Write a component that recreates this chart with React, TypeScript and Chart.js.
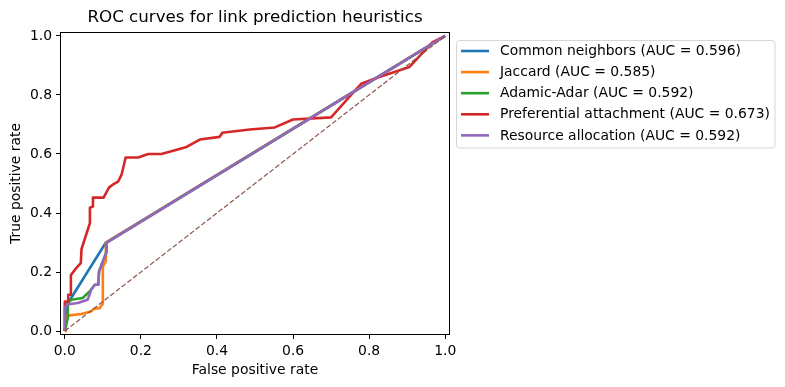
import React, { useEffect, useRef } from "react";
import { Chart, registerables } from "chart.js";

Chart.register(...registerables);

// ---- data ----
const titleText = "ROC curves for link prediction heuristics";
const xLabel = "False positive rate";
const yLabel = "True positive rate";

const seriesNames = [
  "Common neighbors",
  "Jaccard",
  "Adamic-Adar",
  "Preferential attachment",
  "Resource allocation",
];
const aucValues = ["0.596", "0.585", "0.592", "0.673", "0.592"];
const seriesColors = ["#1f77b4", "#ff7f0e", "#2ca02c", "#d62728", "#9467bd"];
const chanceColor = "#8c564b";

const cnFpr = [0, 0.003, 0.006, 0.108, 1];
const cnTpr = [0, 0.04, 0.09, 0.3, 1];

const jacFpr = [0, 0.003, 0.003, 0.012, 0.043, 0.069, 0.076, 0.092, 0.097, 0.1, 0.1, 0.108, 0.108, 1];
const jacTpr = [0, 0.0, 0.05, 0.053, 0.058, 0.066, 0.075, 0.078, 0.088, 0.092, 0.219, 0.236, 0.3, 1];

const aaFpr = [0, 0.008, 0.008, 0.017, 0.047, 0.056, 0.065, 0.069, 0.079, 0.088, 0.09, 0.1, 0.11, 0.11, 1];
const aaTpr = [0, 0.045, 0.095, 0.106, 0.112, 0.123, 0.134, 0.14, 0.157, 0.157, 0.202, 0.236, 0.27, 0.3, 1];

const paFpr = [
  0, 0, 0.009, 0.009, 0.016, 0.016, 0.031, 0.042, 0.044, 0.066, 0.066, 0.074, 0.074, 0.102,
  0.116, 0.125, 0.14, 0.149, 0.16, 0.193, 0.219, 0.254, 0.285, 0.32, 0.355, 0.407, 0.414,
  0.486, 0.552, 0.6, 0.7, 0.779, 0.827, 0.906, 0.967, 1,
];
const paTpr = [
  0, 0.1, 0.1, 0.123, 0.123, 0.19, 0.215, 0.23, 0.278, 0.366, 0.418, 0.422, 0.452, 0.452,
  0.486, 0.495, 0.506, 0.529, 0.588, 0.588, 0.6, 0.6, 0.611, 0.624, 0.649, 0.658, 0.672,
  0.683, 0.69, 0.717, 0.724, 0.838, 0.861, 0.895, 0.979, 1,
];

const raFpr = [0, 0, 0.006, 0.034, 0.06, 0.065, 0.069, 0.079, 0.088, 0.09, 0.1, 0.11, 0.11, 1];
const raTpr = [0, 0.078, 0.09, 0.095, 0.106, 0.123, 0.14, 0.157, 0.157, 0.202, 0.236, 0.27, 0.3, 1];

const chanceFpr = [0, 1];
const chanceTpr = [0, 1];

const xTicks = [0, 0.2, 0.4, 0.6, 0.8, 1.0];
const yTicks = [0, 0.2, 0.4, 0.6, 0.8, 1.0];

const seriesFpr = [cnFpr, jacFpr, aaFpr, paFpr, raFpr];
const seriesTpr = [cnTpr, jacTpr, aaTpr, paTpr, raTpr];

const FONT = "'DejaVu Sans', sans-serif";
const TICK_SIZE = 13.9;

const toPoints = (xs: number[], ys: number[]) => xs.map((x, i) => ({ x, y: ys[i] }));

const decorPlugin = {
  id: "decor",
  afterDraw(chart: any) {
    const { ctx, chartArea } = chart;
    const { left, right, top, bottom } = chartArea;
    ctx.save();
    // spines
    ctx.strokeStyle = "#000";
    ctx.lineWidth = 1;
    ctx.strokeRect(left - 0.5, top - 0.5, right - left + 1, bottom - top + 1);
    // title
    ctx.fillStyle = "#000";
    ctx.font = `16.7px ${FONT}`;
    ctx.textAlign = "center";
    ctx.textBaseline = "middle";
    ctx.fillText(titleText, (left + right) / 2, 18);
    // legend
    const bx = 456.5, by = 40.5, bw = 318.5, bh = 107.5, r = 3;
    ctx.beginPath();
    ctx.moveTo(bx + r, by);
    ctx.lineTo(bx + bw - r, by);
    ctx.arcTo(bx + bw, by, bx + bw, by + r, r);
    ctx.lineTo(bx + bw, by + bh - r);
    ctx.arcTo(bx + bw, by + bh, bx + bw - r, by + bh, r);
    ctx.lineTo(bx + r, by + bh);
    ctx.arcTo(bx, by + bh, bx, by + bh - r, r);
    ctx.lineTo(bx, by + r);
    ctx.arcTo(bx, by, bx + r, by, r);
    ctx.closePath();
    ctx.fillStyle = "rgba(255,255,255,0.8)";
    ctx.fill();
    ctx.strokeStyle = "#d6d6d6";
    ctx.lineWidth = 1;
    ctx.stroke();
    ctx.font = `${TICK_SIZE}px ${FONT}`;
    ctx.textAlign = "left";
    ctx.textBaseline = "middle";
    seriesNames.forEach((name, i) => {
      const y = 51 + i * 21.1;
      ctx.beginPath();
      ctx.moveTo(461, y);
      ctx.lineTo(489, y);
      ctx.strokeStyle = seriesColors[i];
      ctx.lineWidth = 2.6;
      ctx.stroke();
      ctx.fillStyle = "#000";
      ctx.fillText(`${name} (AUC = ${aucValues[i]})`, 500, y + 0.5);
    });
    ctx.restore();
  },
};

export default function App() {
  const canvasRef = useRef<HTMLCanvasElement | null>(null);

  useEffect(() => {
    document.body.style.margin = "0";
    const canvas = canvasRef.current;
    if (!canvas) return;

    const datasets: any[] = seriesNames.map((name, i) => ({
      label: name,
      data: toPoints(seriesFpr[i], seriesTpr[i]),
      borderColor: seriesColors[i],
      backgroundColor: seriesColors[i],
      borderWidth: 2.6,
      pointRadius: 0,
      pointHoverRadius: 0,
      tension: 0,
      fill: false,
      borderJoinStyle: "round",
      order: 5 - i,
    }));
    datasets.push({
      label: "chance",
      data: toPoints(chanceFpr, chanceTpr),
      borderColor: chanceColor,
      borderWidth: 1.2,
      borderDash: [5, 2.2],
      pointRadius: 0,
      pointHoverRadius: 0,
      fill: false,
      order: 0,
    });

    const tickCommon = {
      color: "#000",
      font: { family: FONT, size: TICK_SIZE },
      padding: 4,
      maxRotation: 0,
      autoSkip: false,
      callback: (v: any) => Number(v).toFixed(1),
    };

    const chart = new Chart(canvas, {
      type: "line",
      data: { datasets },
      options: {
        responsive: false,
        animation: false,
        events: [],
        layout: { padding: { left: 0, top: 33, right: 336, bottom: 0 } },
        plugins: {
          legend: { display: false },
          title: { display: false },
          tooltip: { enabled: false },
        },
        scales: {
          x: {
            type: "linear",
            min: -0.01,
            max: 1.01,
            afterBuildTicks: (scale: any) => {
              scale.ticks = xTicks.map((v) => ({ value: v }));
            },
            afterFit: (scale: any) => {
              scale.height = 53;
            },
            ticks: tickCommon,
            grid: {
              display: true,
              drawOnChartArea: false,
              drawTicks: true,
              tickLength: 5,
              color: "#000",
            },
            border: { display: false },
            title: {
              display: true,
              text: xLabel,
              color: "#000",
              font: { family: FONT, size: TICK_SIZE },
              padding: { top: 0, bottom: 8.5 },
            },
          },
          y: {
            type: "linear",
            min: -0.01,
            max: 1.01,
            afterBuildTicks: (scale: any) => {
              scale.ticks = yTicks.map((v) => ({ value: v }));
            },
            afterFit: (scale: any) => {
              scale.width = 61;
            },
            ticks: tickCommon,
            grid: {
              display: true,
              drawOnChartArea: false,
              drawTicks: true,
              tickLength: 5,
              color: "#000",
            },
            border: { display: false },
            title: {
              display: true,
              text: yLabel,
              color: "#000",
              font: { family: FONT, size: TICK_SIZE },
              padding: { top: 7.7, bottom: 0 },
            },
          },
        },
      } as any,
      plugins: [decorPlugin],
    });

    return () => chart.destroy();
  }, []);

  return (
    <div style={{ position: "absolute", left: 0, top: 0, width: 785, height: 387, background: "#fff" }}>
      <canvas ref={canvasRef} width={785} height={387} style={{ display: "block" }} />
    </div>
  );
}
